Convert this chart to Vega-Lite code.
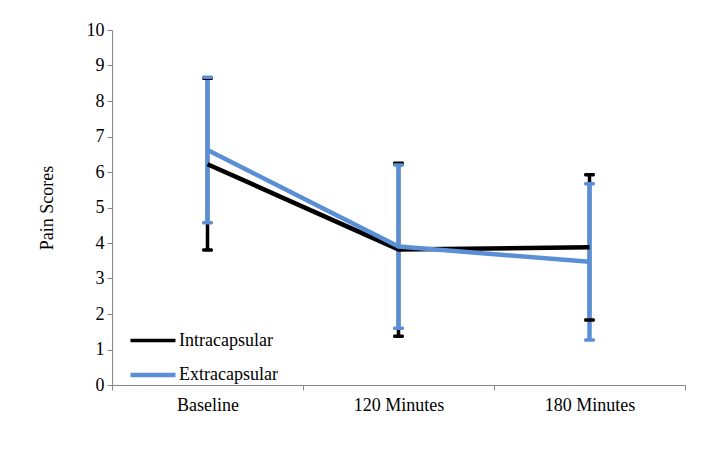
{
  "$schema": "https://vega.github.io/schema/vega-lite/v6.json",
  "width": 573,
  "height": 355,
  "autosize": "none",
  "padding": {"left": 112, "top": 30, "right": 28, "bottom": 73},
  "background": "white",
  "config": {
    "view": {"stroke": null},
    "font": "Liberation Serif",
    "axis": {
      "labelFont": "Liberation Serif",
      "labelFontSize": 18,
      "labelColor": "black",
      "titleFont": "Liberation Serif",
      "titleFontSize": 18,
      "titleColor": "black",
      "titleFontWeight": "normal",
      "domainColor": "#868686",
      "tickColor": "#868686",
      "grid": false
    },
    "axisY": {"values": [0,1,2,3,4,5,6,7,8,9,10]}
  },
  "data": {
    "values": [
      {"time": "Baseline", "group": "Intracapsular", "mean": 6.22, "lo": 3.8, "hi": 8.64},
      {"time": "120 Minutes", "group": "Intracapsular", "mean": 3.82, "lo": 1.37, "hi": 6.25},
      {"time": "180 Minutes", "group": "Intracapsular", "mean": 3.88, "lo": 1.83, "hi": 5.92},
      {"time": "Baseline", "group": "Extracapsular", "mean": 6.62, "lo": 4.57, "hi": 8.67},
      {"time": "120 Minutes", "group": "Extracapsular", "mean": 3.9, "lo": 1.6, "hi": 6.2},
      {"time": "180 Minutes", "group": "Extracapsular", "mean": 3.47, "lo": 1.27, "hi": 5.67}
    ]
  },
  "encoding": {
    "x": {
      "field": "time",
      "type": "nominal",
      "sort": ["Baseline", "120 Minutes", "180 Minutes"],
      "scale": {"paddingInner": 0, "paddingOuter": 0},
      "axis": {"title": null, "labelAngle": 0, "tickBand": "extent", "tickSize": 5, "labelPadding": 6, "labelFontSize": 18}
    },
    "color": {
      "field": "group",
      "type": "nominal",
      "scale": {"domain": ["Intracapsular", "Extracapsular"], "range": ["#000000", "#5A8FD6"]},
      "legend": {
        "title": null,
        "orient": "none",
        "legendX": 16,
        "legendY": 286,
        "symbolType": "stroke",
        "symbolSize": 2025,
        "symbolStrokeWidth": 4.5,
        "symbolOpacity": 1,
        "labelFont": "Liberation Serif",
        "labelFontSize": 18,
        "labelColor": "black",
        "labelOffset": 1,
        "rowPadding": -3
      }
    }
  },
  "layer": [
    {
      "mark": {"type": "rule"},
      "encoding": {
        "y": {
          "field": "lo",
          "type": "quantitative",
          "scale": {"domain": [0, 10]},
          "axis": {"title": "Pain Scores", "values": [0,1,2,3,4,5,6,7,8,9,10], "labelOverlap": false, "tickSize": 5, "labelPadding": 3, "titlePadding": 30, "labelFontSize": 18}
        },
        "y2": {"field": "hi"},
        "strokeWidth": {"field": "group", "type": "nominal", "scale": {"domain": ["Intracapsular", "Extracapsular"], "range": [3.5, 4.5]}, "legend": null}
      }
    },
    {
      "mark": {"type": "tick", "thickness": 3.5, "size": 11, "cornerRadius": 1.5, "opacity": 1},
      "encoding": {"y": {"field": "lo", "type": "quantitative", "axis": {"title": "Pain Scores", "values": [0,1,2,3,4,5,6,7,8,9,10], "labelOverlap": false, "tickSize": 5, "labelPadding": 3, "titlePadding": 30, "labelFontSize": 18}}}
    },
    {
      "mark": {"type": "tick", "thickness": 3.5, "size": 11, "cornerRadius": 1.5, "opacity": 1},
      "encoding": {"y": {"field": "hi", "type": "quantitative", "axis": {"title": "Pain Scores", "values": [0,1,2,3,4,5,6,7,8,9,10], "labelOverlap": false, "tickSize": 5, "labelPadding": 3, "titlePadding": 30, "labelFontSize": 18}}}
    },
    {
      "mark": {"type": "line", "strokeWidth": 4.5},
      "encoding": {
        "y": {"field": "mean", "type": "quantitative", "axis": {"title": "Pain Scores", "values": [0,1,2,3,4,5,6,7,8,9,10], "labelOverlap": false, "tickSize": 5, "labelPadding": 3, "titlePadding": 30, "labelFontSize": 18}}
      }
    }
  ]
}
